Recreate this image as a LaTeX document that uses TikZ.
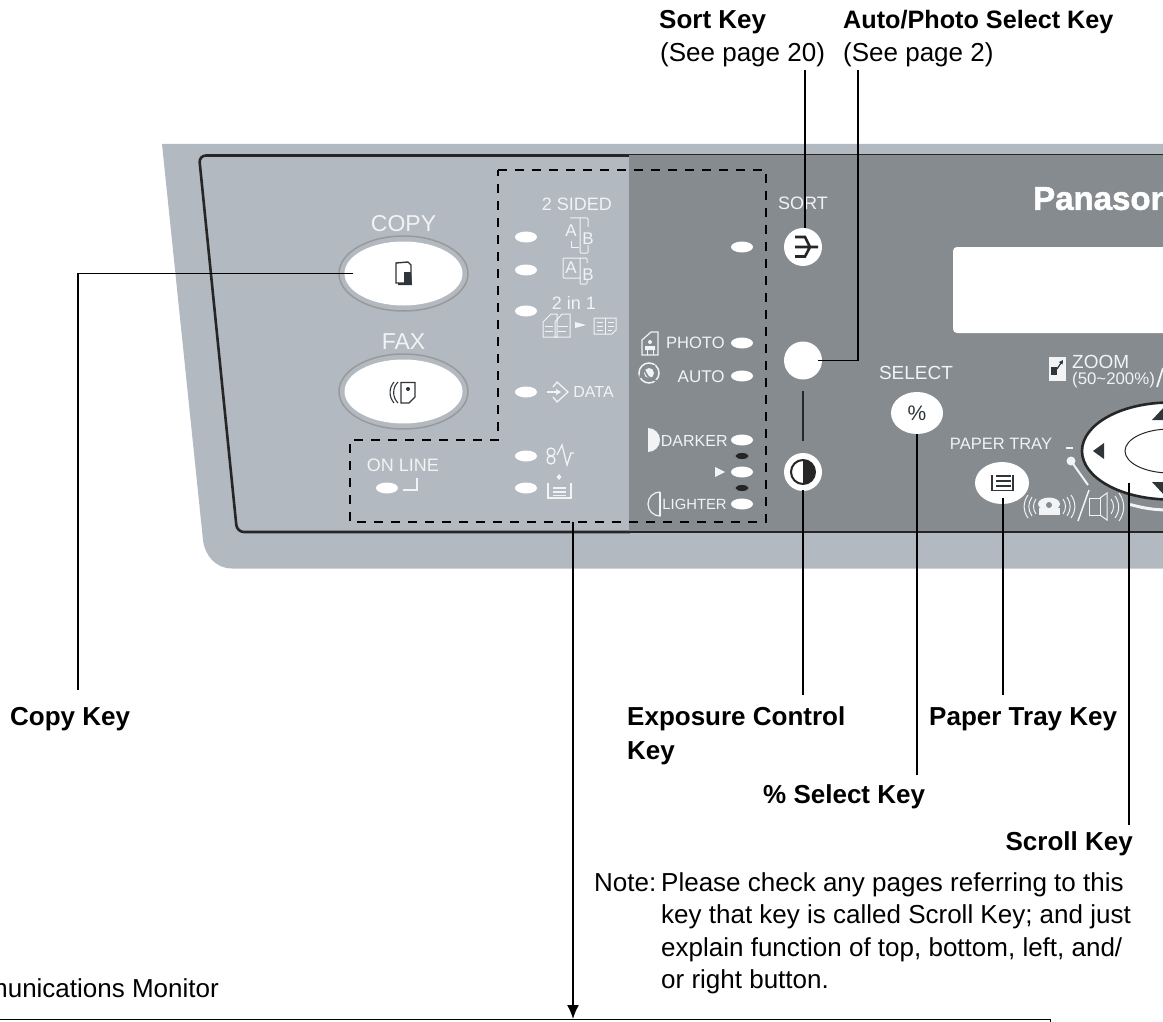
\documentclass[tikz,border=0pt]{standalone}
\usepackage{fontspec}
\setmainfont{Liberation Sans}
\newfontfamily\brandfont{Liberation Sans}[BoldFeatures={FakeBold=1.6}]
\usetikzlibrary{positioning,shapes.geometric,arrows.meta}
\definecolor{panelpale}{HTML}{B3B9C1}
\definecolor{paneldark}{HTML}{868B90}
\definecolor{panelink}{HTML}{F1F3F5}
\definecolor{keyink}{HTML}{2F3538}
\tikzset{
  ledlamp/.style={ellipse,fill=white,inner sep=0pt,minimum width=22pt,minimum height=11pt},
  ledoff/.style={ellipse,fill=black!85,inner sep=0pt,minimum width=13pt,minimum height=6pt},
  softkey/.style={ellipse,fill=white,inner sep=0pt},
  roundkey/.style={circle,fill=white,inner sep=0pt,minimum size=38pt},
  panellabel/.style={inner sep=0pt,text=panelink,font=\fontsize{18}{20}\selectfont},
  smalllabel/.style={inner sep=0pt,text=panelink,font=\fontsize{16}{18}\selectfont},
  letterlabel/.style={inner sep=0pt,text=panelink,font=\fontsize{17}{18}\selectfont},
  calloutbold/.style={inner sep=0pt,anchor=west,font=\fontsize{26}{34}\selectfont\bfseries,align=left},
  calloutplain/.style={inner sep=0pt,anchor=west,font=\fontsize{26}{32.5}\selectfont,align=left},
  callout/.style={draw=black,line width=1.4pt},
  icon/.style={draw=panelink,line width=1pt},
  keyicon/.style={draw=keyink,line width=1.4pt}
}
\begin{document}
\begin{tikzpicture}[x=1pt,y=-1pt]
  \path[use as bounding box,clip] (0,0) rectangle (1163,1022);

  % panel
  \fill[panelpale] (162,144) -- (1170,144) -- (1170,568.5) -- (232,568.5) .. controls (216,568.5) and (205,556) .. (203,540) -- cycle;
  \draw[black!85,line width=2.6pt,rounded corners=7pt] (630,155.5) -- (199,155.5) -- (237,532) -- (630,532);
  \fill[paneldark] (629,155) rectangle (1170,532);
  \draw[black!85,line width=1.2pt] (629,154.5) -- (1170,154.5) (629,532) -- (1170,532);
  \fill[white,rounded corners=4pt] (953,247) rectangle (1180,333);

  % keys on the pale side
  \node[softkey,draw=black!40,line width=1.5pt,fill=panelpale,minimum width=129pt,minimum height=75pt] (copyrim) at (403.5,273.5) {};
  \node[softkey,minimum width=118pt,minimum height=64pt] (copy) at (copyrim) {};
  \node[softkey,draw=black!40,line width=1.5pt,fill=panelpale,minimum width=129pt,minimum height=75pt] (faxrim) at (403.5,391.5) {};
  \node[softkey,minimum width=118pt,minimum height=64pt] (fax) at (faxrim) {};
  \node[panellabel,font=\fontsize{23}{25}\selectfont] (copytext) [above=50pt of copy.center,anchor=center] {COPY};
  \node[panellabel,font=\fontsize{23}{25}\selectfont] (faxtext) [above=50pt of fax.center,anchor=center] {FAX};

  \draw[keyicon] (396,263) -- (408,262) -- (411,265) -- (411,283) -- (396,283) -- cycle;
  \fill[keyink] (411,272) -- (412,285) -- (398,285) -- (398,283) -- (404,283) -- (404,272) -- cycle;
  \draw[keyicon,line width=1.1pt] (398,382) to[bend right=45] (398,403);
  \draw[keyicon,line width=1.1pt] (394,382) to[bend right=40] (394,403);
  \draw[keyicon] (401,382.5) -- (415,382.5) -- (415,397) -- (409,403) -- (401,403) -- cycle;
  \fill[keyink] (408,389) circle (2pt);

  % leds on the pale side
  \node[ledlamp] (sided) at (526,237) {};
  \node[ledlamp] (duplex) at (526,270) {};
  \node[ledlamp] (twoinone) at (526,311) {};
  \node[ledlamp] (data) at (526,392) {};
  \node[ledlamp] (memory) at (526,456) {};
  \node[ledlamp] (feed) at (526,488) {};
  \node[ledlamp] (online) at (387,488) {};

  \node[panellabel] (sidedtext) at (577,204) {2 SIDED};
  \node[panellabel] (twotext) at (574,303) {2 in 1};
  \node[smalllabel] (datatext) [right=36pt of data.east,anchor=west] {DATA};
  \node[panellabel] (onlinetext) at (403,465) {ON LINE};
  \draw[icon,line width=1.5pt] (403,490) -- (417,490) -- (417,478);

  \node[letterlabel] (a1) at (571,231) {A};
  \node[letterlabel] (b1) at (588,239) {B};
  \draw[icon,rounded corners=1pt] (570,218) -- (588,218) -- (588,227);
  \draw[icon,rounded corners=1pt] (580,218) -- (580,253) -- (588,253) -- (588,245);
  \draw[icon] (571,241) -- (571,247) -- (579,247);
  \node[letterlabel] (a2) at (571,268) {A};
  \node[letterlabel] (b2) at (588,275) {B};
  \draw[icon,rounded corners=1pt] (581,278) -- (563,278) -- (563,258) -- (587,258) -- (587,263);
  \draw[icon,rounded corners=1pt] (580,258) -- (580,284) -- (587,284) -- (587,280);

  \draw[icon] (543,337) -- (543,322) -- (551,314) -- (557,314) -- (557,337) -- cycle;
  \draw[icon] (555,337) -- (555,322) -- (562,314) -- (570,314) -- (570,337) -- cycle;
  \draw[icon] (545,326) -- (553,326) (545,331) -- (553,331) (558,326) -- (568,326) (558,331) -- (566,331);
  \fill[panelink] (575,322) -- (586,325) -- (575,328) -- cycle;
  \draw[icon] (594,318) -- (616,318) -- (616,330) -- (612,334) -- (594,334) -- cycle;
  \draw[icon] (605,318) -- (605,334) (597,322) -- (603,322) (597,326) -- (603,326) (597,330) -- (603,330) (608,322) -- (614,322) (608,326) -- (614,326) (608,330) -- (612,330);

  \draw[icon,line width=1.3pt] (553,387) -- (557,382) -- (568,392) -- (557,402) -- (553,397);
  \draw[icon,line width=1.5pt,-{Triangle[length=5pt,width=6pt]}] (547,392) -- (561,392);

  \draw[icon,line width=1.3pt] (551,452) circle (4pt) (551,460) circle (4pt);
  \draw[icon,line width=1.3pt] (557,455) -- (562,445) -- (567,465) -- (571,453) -- (574,453);

  \draw[icon,line width=1.2pt] (548,483) -- (548,498) -- (571,498) -- (571,483) (553,488) -- (566,488) (553,492) -- (566,492) (553,495.5) -- (566,495.5);
  \fill[panelink] (559,474) -- (561.5,477) -- (559,480) -- (556.5,477) -- cycle;

  % leds on the dark side
  \node[ledlamp] (sortled) at (742,247) {};
  \node[ledlamp] (photo) at (742,343) {};
  \node[ledlamp] (auto) at (742,376) {};
  \node[ledlamp] (darker) at (742,440) {};
  \node[ledoff] (darkerstep) at (742,456) {};
  \node[ledlamp] (normal) at (742,472) {};
  \node[ledoff] (lighterstep) at (742,488) {};
  \node[ledlamp] (lighter) at (742,504) {};

  \node[panellabel,font=\fontsize{16.5}{18}\selectfont] (phototext) [left=6pt of photo.west,anchor=east] {PHOTO};
  \node[panellabel,font=\fontsize{17}{18}\selectfont] (autotext) [left=6pt of auto.west,anchor=east,yshift=-1pt] {AUTO};
  \node[smalllabel] (darkertext) [left=3pt of darker.west,anchor=east,yshift=-1pt] {DARKER};
  \node[panellabel,font=\fontsize{14.8}{16}\selectfont] (lightertext) [left=4pt of lighter.west,anchor=east] {LIGHTER};

  \draw[icon,line width=1.2pt] (642,355) -- (642,340) -- (651,332) -- (658,332) -- (658,355) -- cycle;
  \fill[panelink] (650,342) circle (2pt) (645,346) rectangle (655,350);
  \draw[icon] (647,350) -- (647,355) (653,350) -- (653,355);
  \draw[icon,line width=1.5pt] (649,373) circle (10pt);
  \fill[panelink] (649,373) circle (5pt);
  \draw[paneldark,line width=1.6pt] (640,378) to[bend left=50] (655,366) (644,366) to[bend right=40] (657,381);

  \fill[panelink] (648,428) -- (648,452) arc[start angle=-90,end angle=90,x radius=12pt,y radius=12pt] -- cycle;
  \draw[icon,line width=1.2pt] (660,492) -- (660,516) arc[start angle=270,end angle=90,x radius=12pt,y radius=12pt];
  \draw[panelink,line width=2pt] (660,492) -- (660,516);
  \fill[panelink] (715,467) -- (725,472) -- (715,477) -- cycle;

  % keys on the dark side
  \node[panellabel] (sorttext) at (803,203) {SORT};
  \node[roundkey] (sort) at (803,247) {};
  \node[roundkey] (photokey) at (803,360.5) {};
  \node[roundkey] (exposure) at (803,472) {};
  \draw[black!85,line width=2.4pt] (803,391) -- (803,441);
  \draw[black!85,line width=2.6pt] (795,237) -- (805,237) -- (810,247) (795,247) -- (818,247) (795,256.5) -- (805,256.5) -- (810,247);
  \draw[black!85,line width=2pt] (803,472) circle (12pt);
  \fill[black!85] (803,460) arc[start angle=90,end angle=-90,radius=12pt] -- cycle;

  \node[panellabel,font=\fontsize{19}{20}\selectfont] (selecttext) at (916,373) {SELECT};
  \node[softkey,minimum width=52pt,minimum height=42pt] (percent) at (917,413) {};
  \node[text=keyink,inner sep=0pt,font=\fontsize{21}{22}\selectfont] (percenttext) at (percent) {\%};
  \node[panellabel,font=\fontsize{16.5}{18}\selectfont] (traytext) at (1001,444) {PAPER TRAY};
  \node[softkey,minimum width=54pt,minimum height=42pt] (tray) at (1002,483) {};
  \draw[keyicon] (992,475) -- (992,490.5) -- (1013,490.5) -- (1013,475);
  \draw[keyicon,line width=2pt] (996,476) -- (1011,476) (996,481) -- (1011,481) (996,486) -- (1011,486);

  \node[inner sep=0pt,anchor=west,text=white,font=\fontsize{33}{36}\brandfont\bfseries] (brand) at (1033,198) {Panasonic};

  \fill[panelink] (1049,357) rectangle (1066,381);
  \draw[keyink,line width=1.2pt,-{Triangle[length=4pt,width=4pt]}] (1057,369) -- (1063,360);
  \fill[keyink] (1051,367) rectangle (1057,375);
  \node[panellabel,anchor=west,font=\fontsize{19}{22}\selectfont] (zoomtext) at (1072,362) {ZOOM};
  \node[panellabel,anchor=west,font=\fontsize{16.8}{18}\selectfont] (zoomrange) at (1072,380) {(50\char`\~200\%)};
  \draw[icon,line width=1.8pt] (1157,387) -- (1163,368);

  % scroll key
  \node[softkey,draw=black!85,line width=2.6pt,minimum width=176pt,minimum height=97pt] (scroll) at (1170,451) {};
  \node[softkey,draw=black!85,line width=1pt,minimum width=90pt,minimum height=44pt] (scrollhub) at (1170,451) {};
  \draw[panelink,line width=3pt] (1130,504.5) .. controls (1140,507) and (1150,510) .. (1170,510);
  \fill[keyink] (1093,451) -- (1104,443) -- (1104,459) -- cycle;
  \fill[keyink] (1152,420) -- (1166,405) -- (1180,420) -- cycle;
  \fill[keyink] (1152,482) -- (1166,497) -- (1180,482) -- cycle;

  \draw[icon,line width=2pt] (1066,448) -- (1073,448);
  \fill[panelink] (1071,461) circle (4.5pt);
  \draw[icon,line width=2pt] (1071,461) -- (1088,485);
  \draw[icon,line width=1.5pt] (1089,490) -- (1078,521);

  \draw[icon] (1028,495) to[bend right=35] (1028,518);
  \draw[icon] (1032,497) to[bend right=35] (1032,516);
  \draw[icon] (1036,499) to[bend right=35] (1036,514);
  \draw[icon] (1063,499) to[bend left=35] (1063,514);
  \draw[icon] (1067,497) to[bend left=35] (1067,516);
  \draw[icon] (1071,495) to[bend left=35] (1071,518);
  \fill[panelink] (1049,504) ellipse (11pt and 6.5pt);
  \fill[panelink] (1039,508) rectangle (1060,515);
  \fill[paneldark] (1049,505) circle (3pt);

  \draw[icon] (1089,498) rectangle (1100,515);
  \draw[icon] (1100,498) -- (1107,493) -- (1107,520) -- (1100,515);
  \draw[icon] (1111,499) to[bend left=35] (1111,514);
  \draw[icon] (1115,496) to[bend left=35] (1115,518);
  \draw[icon] (1119,493) to[bend left=35] (1119,521);

  % dashed frame
  \draw[black,line width=2.6pt,dash pattern=on 9pt off 8pt] (498,170) -- (766,170) -- (766,522) -- (350,522) -- (350,440) -- (498,440) -- cycle;
  \coordinate (frametap) at (573,522);

  % labels around the panel
  \node[calloutbold] (sortkey) at (659,22) {Sort Key};
  \node[calloutplain] (sortpage) at (660,55) {(See page 20)};
  \node[calloutbold,font=\fontsize{25.2}{34}\selectfont\bfseries] (photolabel) at (843,22) {Auto/Photo Select Key};
  \node[calloutplain] (photopage) at (843,55) {(See page 2)};
  \node[calloutbold] (copykey) at (10,719) {Copy Key};
  \node[calloutbold,anchor=north west] (exposurekey) at (627,706) {Exposure Control\\Key};
  \node[calloutbold] (traykey) at (929,719) {Paper Tray Key};
  \node[calloutbold] (percentkey) at (763,797) {\% Select Key};
  \node[calloutbold,anchor=east] (scrollkey) at (1133,844) {Scroll Key};
  \node[calloutplain] (notehead) at (594,883) {Note:};
  \node[calloutplain,anchor=north west] (notebody) at (661,872) {Please check any pages referring to this\\key that key is called Scroll Key; and just\\explain function of top, bottom, left, and/\\or right button.};
  \node[calloutplain,anchor=east] (monitor) at (219,988) {Communications Monitor};
  \node[draw=black,line width=1.4pt,inner sep=0pt,minimum width=1071pt,minimum height=60pt,anchor=north east] (monitorbox) at (1051,1019) {};

  % connectors
  \coordinate (copyfoot) at (78,690);
  \coordinate (sorttop) at (805,70);
  \coordinate (phototop) at (858,70);
  \coordinate (exposurefoot) at (804,695);
  \coordinate (percentfoot) at (917,775);
  \coordinate (trayfoot) at (1003,695);
  \coordinate (scrollfoot) at (1129,825);
  \draw[callout] ([xshift=15pt]copyrim.west) -| (copyfoot);
  \draw[callout] (sorttop) -- ([xshift=2pt]sort.north);
  \draw[callout] (phototop) |- ([xshift=-4pt]photokey.east);
  \draw[callout] ([yshift=1pt]exposure.south) -- (exposure.south |- exposurefoot);
  \draw[callout] (percent.south) -- (percentfoot);
  \draw[callout] ([xshift=1pt,yshift=-15pt]tray.center) -- (trayfoot);
  \draw[callout] ([xshift=-41pt,yshift=-32pt]scroll.center) -- (scrollfoot);
  \draw[callout,-{Latex[length=14pt,width=12pt]}] (frametap) -- (frametap |- monitorbox.north);
\end{tikzpicture}
\end{document}
